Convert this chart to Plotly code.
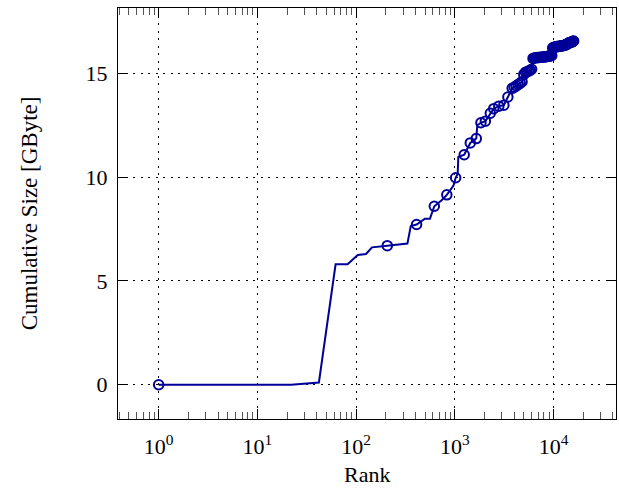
import plotly.graph_objects as go
import math

# ---- data ----
# breakpoints of the cumulative-size curve that carry no marker
step_rank = [22, 42, 62, 82, 104, 126, 145, 331, 358, 498, 560, 736, 970, 1070, 1085, 1690]
step_gb = [0.0, 0.11, 5.80, 5.80, 6.25, 6.30, 6.62, 6.80, 7.64, 8.00, 8.00, 8.89, 9.60, 10.17, 10.97, 12.50]

# points drawn with a circle marker
mark_rank = [1, 207, 410, 620, 830, 1020, 1245, 1435, 1650, 1840, 2040, 2290, 2480, 2790,
             3140, 3450, 3810,
             4000, 4200, 4400, 4600, 4800, 5000, 5200, 5400, 5600, 5800, 6000,
             6200, 6400, 6600, 6800, 7000, 7200, 7400, 7600, 7800, 8000, 8200, 8400,
             8600, 8800, 9000, 9200, 9400, 9600,
             9800, 10000, 10200, 10400, 10600, 10800, 11000, 11200, 11400, 11600, 11800,
             12000, 12200, 12400, 12600, 12800, 13000, 13200, 13400, 13600, 13800, 14000,
             14200, 14400, 14600, 14800, 15000, 15200, 15400, 15600, 15800, 16000]
mark_gb = [0.0, 6.70, 7.72, 8.60, 9.15, 9.97, 11.08, 11.65, 11.86, 12.62, 12.70, 13.08, 13.30, 13.42,
           13.47, 13.86, 14.28,
           14.33, 14.40, 14.47, 14.53, 14.60, 14.95, 15.05, 15.08, 15.11, 15.15, 15.20,
           15.72, 15.74, 15.75, 15.76, 15.77, 15.77, 15.78, 15.78, 15.79, 15.79, 15.80, 15.80,
           15.81, 15.82, 15.83, 15.84, 15.85, 15.86,
           16.22, 16.25, 16.26, 16.27, 16.28, 16.29, 16.30, 16.30, 16.31, 16.31, 16.32,
           16.32, 16.33, 16.33, 16.34, 16.35, 16.36, 16.37, 16.38, 16.40, 16.42, 16.44,
           16.46, 16.47, 16.48, 16.49, 16.50, 16.51, 16.52, 16.54, 16.55, 16.56]

x_tick_vals = [1, 10, 100, 1000, 10000]
x_tick_text = ["10<sup>0</sup>", "10<sup>1</sup>", "10<sup>2</sup>", "10<sup>3</sup>", "10<sup>4</sup>"]
y_tick_vals = [0, 5, 10, 15]
y_tick_text = ["0", "5", "10", "15"]

x_label = "Rank"
y_label = "Cumulative Size [GByte]"

# ---- figure ----
pairs = sorted(zip(step_rank + mark_rank, step_gb + mark_gb))
line_x = [p[0] for p in pairs]
line_y = [p[1] for p in pairs]

color = "#000099"
font_family = "Liberation Serif"

fig = go.Figure()
fig.add_trace(go.Scatter(x=line_x, y=line_y, mode="lines",
                         line=dict(color=color, width=2), showlegend=False,
                         hoverinfo="skip"))
fig.add_trace(go.Scatter(x=mark_rank, y=mark_gb, mode="markers",
                         marker=dict(symbol="circle-open", size=9.5, color=color,
                                     line=dict(color=color, width=2)),
                         showlegend=False))

minor_vals = [m * 10 ** k for k in range(-1, 5) for m in range(2, 10)]

fig.update_xaxes(type="log", range=[-0.412, 4.633],
                 tickmode="array", tickvals=x_tick_vals, ticktext=x_tick_text,
                 ticks="inside", ticklen=10, tickwidth=1, tickcolor="black",
                 showline=True, linecolor="black", linewidth=1, mirror="ticks",
                 showgrid=True, gridcolor="black", gridwidth=1, griddash="2px,5.5px",
                 zeroline=False, ticklabelstandoff=8,
                 minor=dict(tickmode="array", tickvals=minor_vals, ticks="inside",
                            ticklen=7, tickwidth=0.8, tickcolor="#555555", showgrid=False),
                 tickfont=dict(family=font_family, size=22, color="black"))
fig.update_yaxes(range=[-1.65, 18.15],
                 tickmode="array", tickvals=y_tick_vals, ticktext=y_tick_text,
                 ticks="inside", ticklen=10, tickwidth=1, tickcolor="black",
                 showline=True, linecolor="black", linewidth=1, mirror="ticks",
                 showgrid=True, gridcolor="black", gridwidth=1, griddash="2px,5.5px",
                 zeroline=False, ticklabelstandoff=5,
                 tickfont=dict(family=font_family, size=22, color="black"))

fig.add_annotation(text=x_label, xref="paper", yref="paper", x=0.5, y=-0.135,
                   xanchor="center", yanchor="middle", showarrow=False,
                   font=dict(family=font_family, size=22, color="black"))
fig.add_annotation(text=y_label, xref="paper", yref="paper", x=-0.177, y=0.5,
                   xanchor="center", yanchor="middle", showarrow=False, textangle=-90,
                   font=dict(family=font_family, size=23, color="black"))

fig.update_layout(width=619, height=492,
                  margin=dict(l=118, r=3, t=8, b=73, autoexpand=False),
                  plot_bgcolor="white", paper_bgcolor="white",
                  font=dict(family=font_family, size=22, color="black"))

fig.write_html("out.html", config={"displayModeBar": False},
               post_script="document.body.style.margin='0';document.body.style.overflow='hidden';")
